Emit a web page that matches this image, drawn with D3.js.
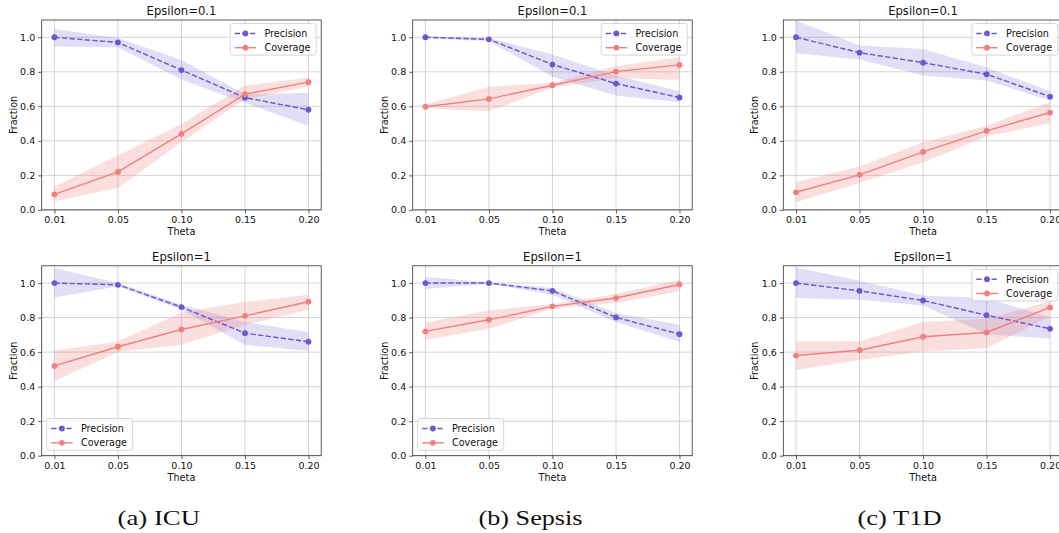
<!DOCTYPE html>
<html>
<head>
<meta charset="utf-8">
<script src="https://cdn.jsdelivr.net/npm/d3@7"></script>
<style>
  html, body { margin: 0; padding: 0; background: #fff; overflow: hidden; }
  svg { display: block; }
</style>
</head>
<body>
<svg id="fig" width="1059" height="533"></svg>
<script>
// Theta values on the x axis (evenly spaced categories) and y ticks
const thetas = ["0.01", "0.05", "0.10", "0.15", "0.20"];
const yTicks = [0, 0.2, 0.4, 0.6, 0.8, 1.0];
const seriesNames = ["Precision", "Coverage"];
const captions = ["(a) ICU", "(b) Sepsis", "(c) T1D"];
const epsilonTitles = ["Epsilon=0.1", "Epsilon=1"];

// ICU, epsilon = 0.1
const icuPrecE01   = [1.00, 0.97, 0.81, 0.65, 0.58];
const icuPrecE01Lo = [0.946, 0.942, 0.755, 0.62, 0.488];
const icuPrecE01Hi = [1.048, 0.996, 0.869, 0.67, 0.678];
const icuCovE01    = [0.09, 0.22, 0.44, 0.67, 0.74];
const icuCovE01Lo  = [0.05, 0.127, 0.392, 0.643, 0.714];
const icuCovE01Hi  = [0.135, 0.315, 0.498, 0.72, 0.765];

// Sepsis, epsilon = 0.1
const sepPrecE01   = [1.00, 0.988, 0.842, 0.732, 0.651];
const sepPrecE01Lo = [0.995, 0.977, 0.772, 0.662, 0.624];
const sepPrecE01Hi = [1.005, 0.996, 0.90, 0.778, 0.687];
const sepCovE01    = [0.598, 0.643, 0.722, 0.801, 0.84];
const sepCovE01Lo  = [0.589, 0.571, 0.707, 0.764, 0.753];
const sepCovE01Hi  = [0.61, 0.714, 0.736, 0.832, 0.884];

// T1D, epsilon = 0.1
const t1dPrecE01   = [1.00, 0.911, 0.853, 0.786, 0.656];
const t1dPrecE01Lo = [0.907, 0.871, 0.778, 0.749, 0.633];
const t1dPrecE01Hi = [1.097, 0.952, 0.932, 0.826, 0.687];
const t1dCovE01    = [0.102, 0.203, 0.336, 0.458, 0.564];
const t1dCovE01Lo  = [0.044, 0.156, 0.276, 0.425, 0.502];
const t1dCovE01Hi  = [0.16, 0.251, 0.392, 0.488, 0.624];

// ICU, epsilon = 1
const icuPrecE1   = [1.00, 0.99, 0.861, 0.71, 0.66];
const icuPrecE1Lo = [0.917, 0.981, 0.845, 0.642, 0.607];
const icuPrecE1Hi = [1.087, 1.0, 0.874, 0.774, 0.716];
const icuCovE1    = [0.52, 0.631, 0.731, 0.81, 0.892];
const icuCovE1Lo  = [0.433, 0.60, 0.642, 0.758, 0.845];
const icuCovE1Hi  = [0.609, 0.661, 0.83, 0.89, 0.932];

// Sepsis, epsilon = 1
const sepPrecE1   = [1.00, 1.00, 0.955, 0.801, 0.704];
const sepPrecE1Lo = [0.965, 0.996, 0.932, 0.774, 0.658];
const sepPrecE1Hi = [1.035, 1.004, 0.971, 0.826, 0.758];
const sepCovE1    = [0.72, 0.787, 0.865, 0.913, 0.992];
const sepCovE1Lo  = [0.671, 0.735, 0.851, 0.884, 0.952];
const sepCovE1Hi  = [0.772, 0.841, 0.878, 0.936, 1.019];

// T1D, epsilon = 1
const t1dPrecE1   = [1.00, 0.955, 0.899, 0.814, 0.735];
const t1dPrecE1Lo = [0.913, 0.903, 0.87, 0.704, 0.677];
const t1dPrecE1Hi = [1.091, 1.014, 0.928, 0.913, 0.801];
const t1dCovE1    = [0.58, 0.611, 0.689, 0.714, 0.859];
const t1dCovE1Lo  = [0.497, 0.555, 0.603, 0.623, 0.807];
const t1dCovE1Hi  = [0.662, 0.662, 0.774, 0.793, 0.894];

// Panel table: rows = epsilon, columns = dataset
const panels = [
  { row: 0, col: 0, prec: [icuPrecE01, icuPrecE01Lo, icuPrecE01Hi], cov: [icuCovE01, icuCovE01Lo, icuCovE01Hi], legend: "upper right" },
  { row: 0, col: 1, prec: [sepPrecE01, sepPrecE01Lo, sepPrecE01Hi], cov: [sepCovE01, sepCovE01Lo, sepCovE01Hi], legend: "upper right" },
  { row: 0, col: 2, prec: [t1dPrecE01, t1dPrecE01Lo, t1dPrecE01Hi], cov: [t1dCovE01, t1dCovE01Lo, t1dCovE01Hi], legend: "upper right" },
  { row: 1, col: 0, prec: [icuPrecE1, icuPrecE1Lo, icuPrecE1Hi], cov: [icuCovE1, icuCovE1Lo, icuCovE1Hi], legend: "lower left" },
  { row: 1, col: 1, prec: [sepPrecE1, sepPrecE1Lo, sepPrecE1Hi], cov: [sepCovE1, sepCovE1Lo, sepCovE1Hi], legend: "lower left" },
  { row: 1, col: 2, prec: [t1dPrecE1, t1dPrecE1Lo, t1dPrecE1Hi], cov: [t1dCovE1, t1dCovE1Lo, t1dCovE1Hi], legend: "upper right" }
];

// Layout
const colLeft = [41.7, 412.7, 783.3];
const rowTop = [20, 265.8];
const plotW = 279.5, plotH = 189.9;
const captionX = [117.5, 478.5, 857.5];
const captionW = [82.5, 104, 84];
const captionBaseline = 524.5;

const precColor = "#6a5acd";
const covColor = "#f08080";
const textColor = "#111";
const font = "'DejaVu Sans', sans-serif";

const svg = d3.select("#fig");

const x = d3.scalePoint().domain(thetas).range([0, plotW]).padding(0.2);
const y = d3.scaleLinear().domain([0, 1.1]).range([plotH, 0]);

panels.forEach((p, i) => {
  const g = svg.append("g")
    .attr("transform", `translate(${colLeft[p.col]},${rowTop[p.row]})`);

  const clipId = `clip-${i}`;
  g.append("clipPath").attr("id", clipId)
    .append("rect").attr("width", plotW).attr("height", plotH);

  // grid
  const grid = g.append("g").attr("stroke", "#c9c9c9").attr("stroke-width", 0.8);
  grid.selectAll("line.v").data(thetas).join("line")
    .attr("x1", d => x(d)).attr("x2", d => x(d))
    .attr("y1", 0).attr("y2", plotH);
  grid.selectAll("line.h").data(yTicks).join("line")
    .attr("x1", 0).attr("x2", plotW)
    .attr("y1", d => y(d)).attr("y2", d => y(d));

  const plot = g.append("g").attr("clip-path", `url(#${clipId})`);

  const band = d3.area()
    .x((d, j) => x(thetas[j]))
    .y0(d => y(d[0]))
    .y1(d => y(d[1]));
  const line = d3.line().x((d, j) => x(thetas[j])).y(d => y(d));

  const series = [
    { vals: p.prec[0], lo: p.prec[1], hi: p.prec[2], color: precColor, dash: "5.3,2.3", bandOpacity: 0.2 },
    { vals: p.cov[0], lo: p.cov[1], hi: p.cov[2], color: covColor, dash: null, bandOpacity: 0.25 }
  ];

  series.forEach(s => {
    plot.append("path")
      .datum(s.lo.map((lo, j) => [lo, s.hi[j]]))
      .attr("d", band)
      .attr("fill", s.color)
      .attr("fill-opacity", s.bandOpacity)
      .attr("stroke", "none");
  });

  series.forEach(s => {
    plot.append("path")
      .datum(s.vals)
      .attr("d", line)
      .attr("fill", "none")
      .attr("stroke", s.color)
      .attr("stroke-width", 1.45)
      .attr("stroke-dasharray", s.dash);
    plot.selectAll(null).data(s.vals).join("circle")
      .attr("cx", (d, j) => x(thetas[j]))
      .attr("cy", d => y(d))
      .attr("r", 2.9)
      .attr("fill", s.color);
  });

  // axes
  const xAxis = g.append("g").attr("transform", `translate(0,${plotH})`)
    .call(d3.axisBottom(x).tickSize(3.5).tickPadding(3));
  const yAxis = g.append("g")
    .call(d3.axisLeft(y).tickValues(yTicks).tickFormat(d3.format(".1f")).tickSize(3.5).tickPadding(3));
  [xAxis, yAxis].forEach(a => {
    a.select(".domain").remove();
    a.selectAll(".tick line").attr("stroke", "#333").attr("stroke-width", 0.8);
    a.selectAll(".tick text")
      .attr("fill", textColor)
      .style("font-family", font)
      .style("font-size", "9.5px");
  });

  // spines
  g.append("rect")
    .attr("width", plotW).attr("height", plotH)
    .attr("fill", "none").attr("stroke", "#333").attr("stroke-width", 0.8);

  // title and axis labels
  g.append("text")
    .attr("x", plotW / 2).attr("y", -5)
    .attr("text-anchor", "middle")
    .attr("fill", textColor)
    .style("font-family", font).style("font-size", "11.6px")
    .text(epsilonTitles[p.row]);
  g.append("text")
    .attr("x", plotW / 2).attr("y", plotH + 25.5)
    .attr("text-anchor", "middle")
    .attr("fill", textColor)
    .style("font-family", font).style("font-size", "9.7px")
    .text("Theta");
  g.append("text")
    .attr("transform", `translate(-25,${plotH / 2}) rotate(-90)`)
    .attr("text-anchor", "middle")
    .attr("fill", textColor)
    .style("font-family", font).style("font-size", "9.6px")
    .text("Fraction");

  // legend
  const lw = 86, lh = 31.7;
  const lx = p.legend === "upper right" ? plotW - 5 - lw : 5;
  const ly = p.legend === "upper right" ? 3.4 : plotH - 5.5 - lh;
  const lg = g.append("g").attr("transform", `translate(${lx},${ly})`);
  lg.append("rect")
    .attr("width", lw).attr("height", lh).attr("rx", 2.5)
    .attr("fill", "#fff").attr("fill-opacity", 0.8)
    .attr("stroke", "#cccccc").attr("stroke-width", 0.8);
  series.forEach((s, k) => {
    const ry = 10 + k * 14.3;
    lg.append("line")
      .attr("x1", 4.5).attr("x2", 26).attr("y1", ry).attr("y2", ry)
      .attr("stroke", s.color).attr("stroke-width", 1.45)
      .attr("stroke-dasharray", s.dash);
    lg.append("circle").attr("cx", 15.2).attr("cy", ry).attr("r", 2.9).attr("fill", s.color);
    lg.append("text")
      .attr("x", 34.3).attr("y", ry).attr("dy", "0.35em")
      .attr("fill", textColor)
      .style("font-family", font).style("font-size", "9.6px")
      .text(seriesNames[k]);
  });
});

// subfigure captions
svg.selectAll("text.caption").data(captions).join("text")
  .attr("class", "caption")
  .attr("x", (d, i) => captionX[i])
  .attr("y", captionBaseline)
  .attr("textLength", (d, i) => captionW[i])
  .attr("lengthAdjust", "spacingAndGlyphs")
  .attr("fill", "#111")
  .style("font-family", "'Liberation Serif', serif")
  .style("font-size", "22px")
  .text(d => d);
</script>
</body>
</html>
